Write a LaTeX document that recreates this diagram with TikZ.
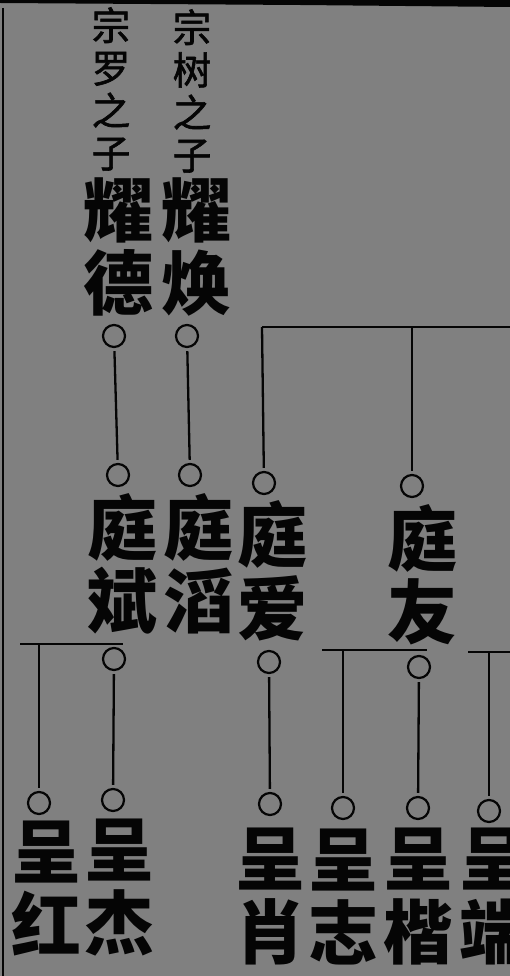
\documentclass[tikz,border=0pt]{standalone}
\usepackage{fontspec}
\newfontfamily\cjk{Noto Sans CJK SC}
\newfontfamily\cjksm{Noto Sans CJK SC}[FakeBold=1.6]
\definecolor{paper}{RGB}{128,128,128}
\definecolor{ink}{RGB}{5,5,5}
\begin{document}
\begin{tikzpicture}[x=1pt,y=-1pt,
  big/.style={font=\cjk\bfseries\fontsize{70}{73}\selectfont, align=center, inner sep=0pt, text=ink},
  small/.style={font=\cjksm\fontsize{38.5}{42.5}\selectfont, align=center, inner sep=0pt, text=ink},
  ring/.style={circle, draw=ink, line width=2.2pt, minimum size=22pt, inner sep=0pt},
  vline/.style={draw=ink, line width=2.3pt, shorten <=3pt, shorten >=3pt},
  hline/.style={draw=ink, line width=2.8pt},
]
\fill[paper] (0,0) rectangle (510,976);
\useasboundingbox (0,0) rectangle (510,976);
% frame
\fill[ink] (0,0) -- (510,0) -- (510,7) -- (300,5) -- (0,3) -- cycle;
\draw[ink, line width=2.2pt] (3,8) -- (3,976);

% generation 1
\node[small] (s1) at (111,89) {宗\\罗\\之\\子};
\node[small] (s2) at (192,91) {宗\\树\\之\\子};
\node[big] (yaode) at (118,247) {耀\\德};
\node[big] (yaohuan) at (196,247) {耀\\焕};
\node[ring] (cyd1) at (114,336) {};
\node[ring] (cyh1) at (187,336) {};

% generation 2
\node[ring] (cyd2) at (118,475) {};
\node[ring] (cyh2) at (190,475) {};
\node[ring] (cta) at (264,483) {};
\node[ring] (cty) at (412,486) {};
\node[big] (tingbin) at (122,564) {庭\\斌};
\node[big] (tingtao) at (198,564) {庭\\滔};
\node[big] (tingai) at (272,571) {庭\\爱};
\node[big] (tingyou) at (422,575) {庭\\友};

\draw[vline] (cyd1) -- (cyd2);
\draw[vline] (cyh1) -- (cyh2);
\coordinate (ta) at (262,327);
\coordinate (tb) at (510,327);
\draw[hline] (ta) -- (tb);
\draw[vline, shorten <=0pt] (ta) -- (cta);
\draw[vline, shorten <=0pt] (cty |- ta) -- (cty);

% generation 3
\node[ring] (cbin) at (114,659) {};
\node[ring] (cai) at (269,662) {};
\node[ring] (cyou) at (419,667) {};
\node[ring] (chong) at (39,803) {};
\node[ring] (cjie) at (113,800) {};
\node[ring] (cxiao) at (270,804) {};
\node[ring] (czhi) at (343,808) {};
\node[ring] (ckai) at (418,808) {};
\node[ring] (cduan) at (489,811) {};

\coordinate (h1a) at (20,644);
\coordinate (h1b) at (123,644);
\coordinate (h2a) at (322,650);
\coordinate (h2b) at (427,650);
\coordinate (h3a) at (468,652);
\coordinate (h3b) at (510,652);
\draw[hline] (h1a) -- (h1b);
\draw[hline] (h2a) -- (h2b);
\draw[hline] (h3a) -- (h3b);

\draw[vline, shorten <=0pt] (chong |- h1a) -- (chong);
\draw[vline] (cbin) -- (cjie);
\draw[vline] (cai) -- (cxiao);
\draw[vline, shorten <=0pt] (czhi |- h2a) -- (czhi);
\draw[vline] (cyou) -- (ckai);
\draw[vline, shorten <=0pt] (cduan |- h3a) -- (cduan);

\node[big] (chenghong) at (46,888) {呈\\红};
\node[big] (chengjie) at (119,888) {呈\\杰};
\node[big] (chengxiao) at (270,897) {呈\\肖};
\node[big] (chengzhi) at (343,897) {呈\\志};
\node[big] (chengkai) at (418,897) {呈\\楷};
\node[big] (chengduan) at (494,897) {呈\\端};
\end{tikzpicture}
\end{document}
